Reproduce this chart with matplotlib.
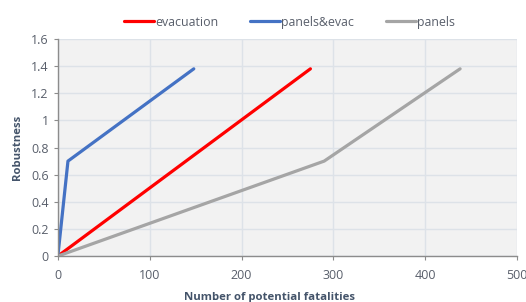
import matplotlib.pyplot as plt

# fatalities vs robustness
evac_x = [0, 275]
evac_y = [0, 1.38]
panels_evac_x = [0, 11, 148]
panels_evac_y = [0, 0.70, 1.38]
panels_x = [0, 290, 438]
panels_y = [0, 0.70, 1.38]

x_ticks = [0, 100, 200, 300, 400, 500]
y_ticks = [0, 0.2, 0.4, 0.6, 0.8, 1, 1.2, 1.4, 1.6]
y_labels = ["0", "0.2", "0.4", "0.6", "0.8", "1", "1.2", "1.4", "1.6"]

plt.rcParams['font.family'] = ['Open Sans', 'DejaVu Sans']
txt = "#595f6b"

fig = plt.figure(figsize=(5.26, 3.02), dpi=100)
ax = fig.add_axes([0.110, 0.152, 0.873, 0.719])
ax.set_facecolor("#f2f2f2")

ax.plot(evac_x, evac_y, color="#ff0000", lw=2.3, label="evacuation", solid_capstyle="round")
ax.plot(panels_evac_x, panels_evac_y, color="#4472c4", lw=2.3, label="panels&evac", solid_capstyle="round")
ax.plot(panels_x, panels_y, color="#a5a5a5", lw=2.3, label="panels", solid_capstyle="round")

ax.set_xlim(0, 500)
ax.set_ylim(0, 1.6)
ax.set_xticks(x_ticks)
ax.set_yticks(y_ticks)
ax.set_yticklabels(y_labels)
ax.grid(True, color="#dde2e8", lw=1.0)
ax.set_axisbelow(True)

for s in ["top", "right"]:
    ax.spines[s].set_visible(False)
for s in ["left", "bottom"]:
    ax.spines[s].set_color("#8c8c8c")
    ax.spines[s].set_linewidth(1.0)

ax.tick_params(axis="both", colors="#8c8c8c", labelcolor=txt, labelsize=9, length=3)
ax.tick_params(axis="x", pad=6)

ax.set_xlabel("Number of potential fatalities", fontsize=8.2, fontweight="bold", color="#44546a", labelpad=3)
ax.xaxis.set_label_coords(0.46, -0.165)
ax.set_ylabel("Robustness", fontsize=8.2, fontweight="bold", color="#44546a", labelpad=6)

leg = fig.legend(loc="upper center", bbox_to_anchor=(0.55, 0.985), ncol=3, frameon=False,
                 fontsize=8.9, handlelength=2.4, handletextpad=0.1, columnspacing=2.6)
for t in leg.get_texts():
    t.set_color(txt)

fig.savefig("out.png", dpi=100)
